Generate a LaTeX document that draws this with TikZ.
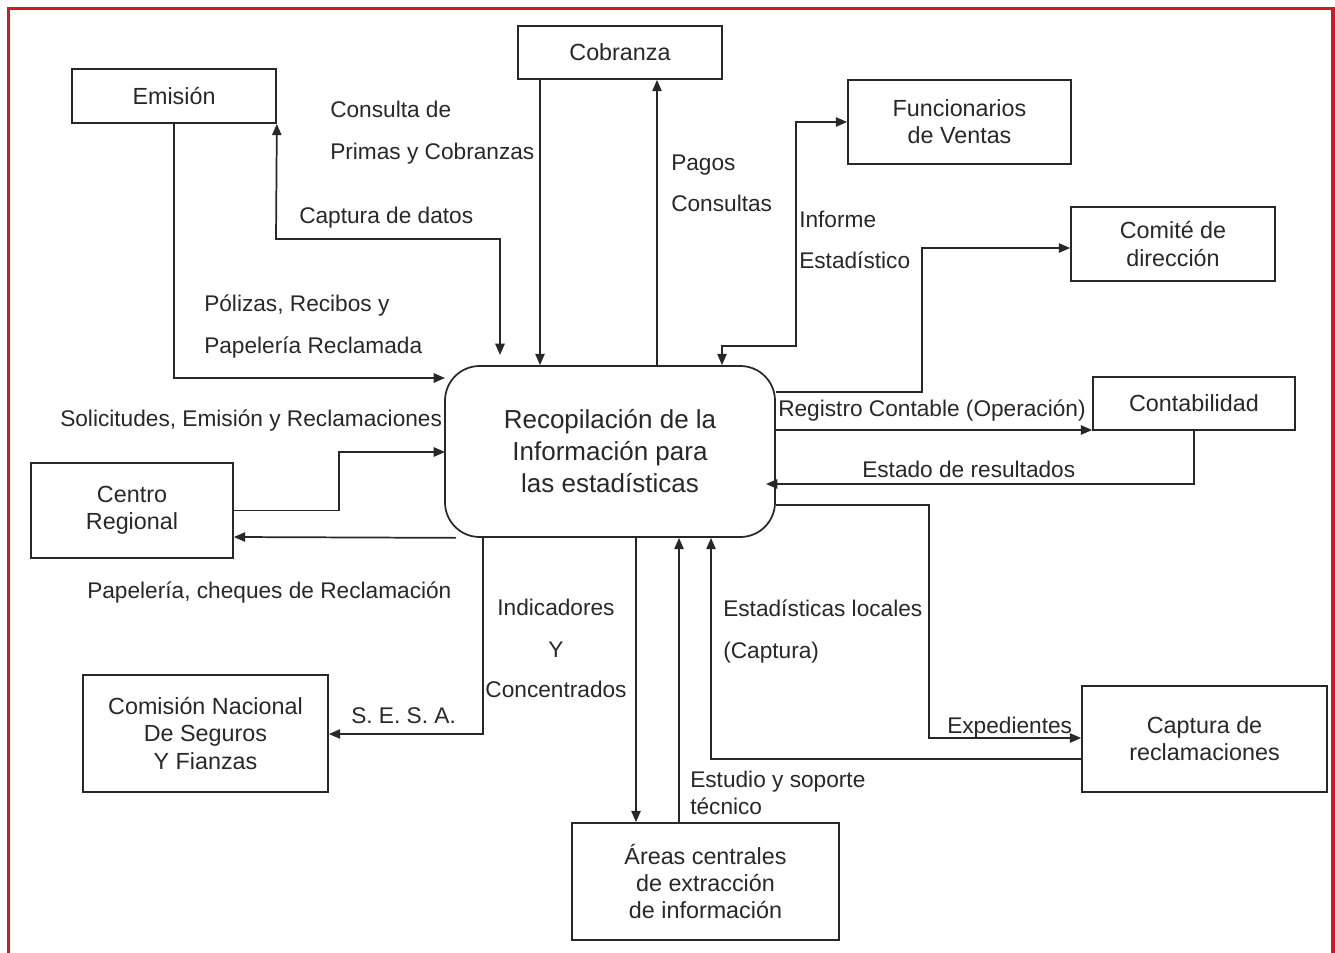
\documentclass[tikz,border=0pt]{standalone}
\usepackage{fontspec}
\setmainfont{Liberation Sans}
\usetikzlibrary{arrows.meta,calc}
\newcommand\lblfont{\fontsize{17}{20}\selectfont}
\newcommand\boxfont{\fontsize{17.5}{20.3}\selectfont}
\newcommand\mainfont{\fontsize{19.5}{24}\selectfont}
\definecolor{frame}{RGB}{216,24,30}
\definecolor{ink}{RGB}{40,40,40}
\tikzset{
  box/.style={draw=ink, line width=1.3pt, inner sep=0pt, align=center, font=\boxfont, text=ink},
  lbl/.style={inner sep=0pt, font=\lblfont, anchor=base west, text=ink},
  lblc/.style={inner sep=0pt, font=\lblfont, anchor=base, text=ink},
  conn/.style={draw=ink, line width=1.3pt},
  arr/.style={conn, -{Triangle[length=8.5pt,width=7pt]}},
  arrb/.style={conn, {Triangle[length=8.5pt,width=7pt]}-{Triangle[length=8.5pt,width=7pt]}}
}
\begin{document}
\begin{tikzpicture}[x=0.75pt,y=-0.75pt]
\useasboundingbox (0,0) rectangle (1335,953);
\fill[white] (0,0) rectangle (1335,953);
% red frame
\draw[frame, line width=2.4pt] (8.5,960) -- (8.5,8.5) -- (1333,8.5) -- (1333,960);

% boxes
\node[box, minimum width=153pt, minimum height=40.5pt] (emi) at (174,96) {Emisión};
\node[box, minimum width=153pt, minimum height=39.75pt] (cob) at (620,52.5) {Cobranza};
\node[box, minimum width=167.25pt, minimum height=63pt] (fun) at (959.5,122) {Funcionarios\\de Ventas};
\node[box, minimum width=153pt, minimum height=55.5pt] (com) at (1173,244) {Comité de\\dirección};
\node[box, minimum width=151.5pt, minimum height=39.75pt] (cont) at (1194,403.5) {Contabilidad};
\node[box, minimum width=151.5pt, minimum height=71.25pt] (cen) at (132,510.5) {Centro\\Regional};
\node[box, minimum width=183.75pt, minimum height=87.75pt] (cnsf) at (205.5,733.5) {Comisión Nacional\\De Seguros\\Y Fianzas};
\node[box, minimum width=200.25pt, minimum height=87.75pt] (are) at (705.5,881.5) {Áreas centrales\\de extracción\\de información};
\node[box, minimum width=183.75pt, minimum height=79.5pt] (cap) at (1204.5,739) {Captura de\\reclamaciones};
\node[box, rounded corners=26pt, font=\mainfont, minimum width=247.5pt, minimum height=128.25pt] (main) at (610,451.5) {Recopilación de la\\Información para\\las estadísticas};

% connectors
\draw[arr] (emi.south) -- (174,378) -- (445,378);
\draw[arrb] (emi.south east) -- (276,239) -- (500,239) -- (500,355);
\draw[arr] (540,0 |- cob.south) -- (540,0 |- main.north);
\draw[arr] (657,0 |- main.north) -- (657,0 |- cob.south);
\draw[arrb] (fun.west) -- (796,122) -- (796,346) -- (722,346) -- (722,0 |- main.north);
\draw[arr] (main.east |- 0,392) -- (922,392) -- (922,248) -- (com.west |- 0,248);
\draw[arr] (main.east |- 0,430) -- (cont.west |- 0,430);
\draw[arr] (1194,0 |- cont.south) -- (1194,484) -- (766,484);
\draw[arr] (cen.east) -- (339,510.5) -- (339,452) -- (445,452);
\draw[arr] ($(main.south west)+(12,0)$) -- (cen.east |- 0,537);
\draw[arr] (483,0 |- main.south) -- (483,734) -- (cnsf.east |- 0,734);
\draw[arr] (636,0 |- main.south) -- (636,0 |- are.north);
\draw[arr] (679,0 |- are.north) -- (679,0 |- main.south);
\draw[arr] (cap.west |- 0,759) -- (711,759) -- (711,0 |- main.south);
\draw[arr] (main.east |- 0,505) -- (929,505) -- (929,738) -- (cap.west |- 0,738);

% labels
\node[lbl] (l1) at (330,117) {Consulta de};
\node[lbl] (l2) at (330,159) {Primas y Cobranzas};
\node[lbl] (l3) at (299,223) {Captura de datos};
\node[lbl] (l4) at (204,311) {Pólizas, Recibos y};
\node[lbl] (l5) at (204,353) {Papelería Reclamada};
\node[lbl] (l6) at (671,170) {Pagos};
\node[lbl] (l7) at (671,211) {Consultas};
\node[lbl] (l8) at (799,227) {Informe};
\node[lbl] (l9) at (799,268) {Estadístico};
\node[lbl] (l10) at (778,416) {Registro Contable (Operación)};
\node[lbl] (l11) at (862,477) {Estado de resultados};
\node[lbl] (l12) at (60,426) {Solicitudes, Emisión y Reclamaciones};
\node[lbl] (l13) at (87,598) {Papelería, cheques de Reclamación};
\node[lblc] (l14) at (556,615) {Indicadores};
\node[lblc] (l15) at (556,657) {Y};
\node[lblc] (l16) at (556,697) {Concentrados};
\node[lbl] (l17) at (351,723) {S. E. S. A.};
\node[lbl] (l18) at (723,616) {Estadísticas locales};
\node[lbl] (l19) at (723,658) {(Captura)};
\node[lbl] (l20) at (947,733) {Expedientes};
\node[lbl] (l21) at (690,787) {Estudio y soporte};
\node[lbl] (l22) at (690,814) {técnico};
\end{tikzpicture}
\end{document}
